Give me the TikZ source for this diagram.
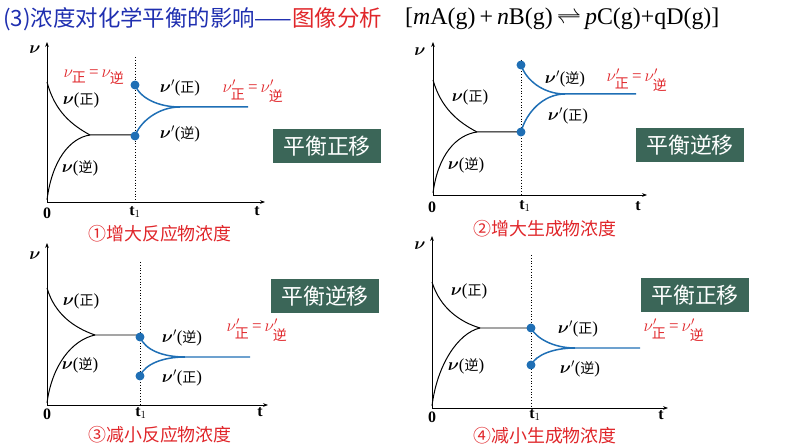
\documentclass[tikz,border=0pt]{standalone}
\usepackage{amsmath}
\usepackage{fontspec}
\setmainfont{Liberation Serif}
\newfontfamily\cjk{Noto Sans CJK SC}
\definecolor{ttl}{HTML}{1F2FB0}
\definecolor{rd}{HTML}{E0262A}
\definecolor{bl}{HTML}{1F6FB5}
\definecolor{bx}{HTML}{3B6658}
\usetikzlibrary{arrows.meta}
\tikzset{
 ax/.style={line width=0.9pt,-{Stealth[length=5pt]}},
 blk/.style={line width=1pt},
 blu/.style={line width=1.5pt,bl},
 dot/.style={circle,fill=bl,inner sep=0pt,minimum size=9pt},
 lbl/.style={font=\fontsize{17}{17}\selectfont},
 rlbl/.style={font=\fontsize{17}{17}\selectfont,text=rd},
 boxs/.style={fill=bx,text=white,font=\cjk\fontsize{22}{22}\selectfont,minimum width=109pt,minimum height=35pt,inner sep=0pt},
 captxt/.style={text=rd,font=\cjk\fontsize{18}{18}\selectfont},
 tk/.style={font=\bfseries\fontsize{16}{16}\selectfont}
}
\newcommand{\zh}[1]{{\cjk\fontsize{14}{14}\selectfont #1}}
\newcommand{\nv}{\boldsymbol{\nu}}
\newcommand{\vz}{$\nv$(\zh{正})}
\newcommand{\vn}{$\nv$(\zh{逆})}
\newcommand{\vpz}{$\nv'$(\zh{正})}
\newcommand{\vpn}{$\nv'$(\zh{逆})}
\newcommand{\eqa}{$\nu_{\text{\zh{正}}}$\,=\,$\nu_{\text{\zh{逆}}}$}
\newcommand{\eqb}{$\nu'_{\text{\zh{正}}}$\,=\,$\nu'_{\text{\zh{逆}}}$}
\begin{document}
\begin{tikzpicture}[x=1bp,y=-1bp]
\useasboundingbox (0,0) rectangle (794,447);
% title
\node[anchor=west,inner sep=0pt] (title) at (3,19) {\cjk\fontsize{22.5}{22}\selectfont\textcolor{ttl}{(3)浓度对化学平衡的影响——}\textcolor{rd}{图像分析}};
\node[anchor=west,inner sep=0pt] (eq) at (405,19) {\fontsize{24}{24}\selectfont [\textit{m}A(g)\,+\,\textit{n}B(g)\,$\rightleftharpoons$\,\textit{p}C(g)+qD(g)]};
% ---- chart 1
\draw[ax] (47,202) -- (47,42);
\draw[ax] (47,202) -- (265,202);
\draw[dotted,line width=0.8pt] (135,57) -- (135,202);
\draw[blk] (47,82) .. controls (55,112) and (72,125) .. (90,135) -- (135,135);
\draw[blk] (47,200) .. controls (52,160) and (70,138) .. (90,135);
\draw[blu] (135,85) .. controls (140,98) and (158,107) .. (180,107) -- (248,107);
\draw[blu] (135,136) .. controls (140,122) and (158,107) .. (180,107);
\node[dot] (a1) at (135,85) {}; \node[dot] (a2) at (135,136) {};
\node[tk] (v1) at (35,50) {$\nv$};
\node[tk] (o1) at (47,213) {0};
\node[tk] (t11) at (135,212) {t$_1$};
\node[tk] (t1) at (257,211) {t};
\node[rlbl] at (94,77) {\eqa};
\node[lbl] at (81,100) {\vz};
\node[lbl] at (80,168) {\vn};
\node[lbl] at (180,88) {\vpz};
\node[lbl] at (180,134) {\vpn};
\node[rlbl] at (253,91) {\eqb};
\node[boxs] (b1) at (327,146) {平衡正移};
\node[captxt] (c1) at (160,234) {①增大反应物浓度};
% ---- chart 2
\draw[ax] (433,195) -- (433,42);
\draw[ax] (433,195) -- (647,195);
\draw[dotted,line width=0.8pt] (521,60) -- (521,195);
\draw[blk] (433,80) .. controls (441,108) and (458,122) .. (477,132) -- (521,132);
\draw[blk] (433,193) .. controls (438,155) and (456,135) .. (477,132);
\draw[blu] (521,65) .. controls (526,80) and (543,94) .. (565,94) -- (636,94);
\draw[blu] (521,132) .. controls (526,113) and (543,94) .. (565,94);
\node[dot] (b21) at (521,65) {}; \node[dot] (b22) at (521,132) {};
\node[tk] (v2) at (420,52) {$\nv$};
\node[tk] (o2) at (432,207) {0};
\node[tk] (t21) at (525,206) {t$_1$};
\node[tk] (t2) at (638,206) {t};
\node[lbl] at (470,97) {\vz};
\node[lbl] at (466,165) {\vn};
\node[lbl] at (565,79) {\vpn};
\node[lbl] at (568,116) {\vpz};
\node[rlbl] at (637,80) {\eqb};
\node[boxs] (b2) at (690,145) {平衡逆移};
\node[captxt] (c2) at (545,229) {②增大生成物浓度};
% ---- chart 3
\draw[ax] (47,405) -- (47,243);
\draw[ax] (47,405) -- (268,405);
\draw[dotted,line width=0.8pt] (140,262) -- (140,405);
\draw[blk] (47,288) .. controls (55,315) and (75,328) .. (95,335) -- (140,335);
\draw[blk] (47,403) .. controls (52,365) and (72,340) .. (95,335);
\draw[blu] (140,337) .. controls (145,350) and (163,357) .. (185,357) -- (250,357);
\draw[blu] (140,376) .. controls (145,364) and (163,357) .. (185,357);
\node[dot] (c31) at (140,337) {}; \node[dot] (c32) at (140,376) {};
\node[tk] (v3) at (35,256) {$\nv$};
\node[tk] (o3) at (47,414) {0};
\node[tk] (t31) at (141,413) {t$_1$};
\node[tk] (t3) at (260,412) {t};
\node[lbl] at (81,301) {\vz};
\node[lbl] at (80,365) {\vn};
\node[lbl] at (182,338) {\vpn};
\node[lbl] at (182,378) {\vpz};
\node[rlbl] at (257,330) {\eqb};
\node[boxs] (b3) at (325,296) {平衡逆移};
\node[captxt] (c3) at (160,435) {③减小反应物浓度};
% ---- chart 4
\draw[ax] (432,408) -- (432,236);
\draw[ax] (432,408) -- (668,408);
\draw[dotted,line width=0.8pt] (531,255) -- (531,408);
\draw[blk] (432,282) .. controls (440,308) and (460,322) .. (480,328) -- (531,328);
\draw[blk] (432,406) .. controls (437,365) and (458,333) .. (480,328);
\draw[blu] (531,328) .. controls (536,338) and (553,348) .. (575,348) -- (640,348);
\draw[blu] (531,365) .. controls (536,355) and (553,348) .. (575,348);
\node[dot] (d41) at (531,328) {}; \node[dot] (d42) at (531,365) {};
\node[tk] (v4) at (420,246) {$\nv$};
\node[tk] (o4) at (432,417) {0};
\node[tk] (t41) at (535,415) {t$_1$};
\node[tk] (t4) at (661,415) {t};
\node[lbl] at (469,291) {\vz};
\node[lbl] at (466,366) {\vn};
\node[lbl] at (578,329) {\vpz};
\node[lbl] at (580,369) {\vpn};
\node[rlbl] at (674,330) {\eqb};
\node[boxs] (b4) at (695,295) {平衡正移};
\node[captxt] (c4) at (545,436) {④减小生成物浓度};
\end{tikzpicture}
\end{document}
